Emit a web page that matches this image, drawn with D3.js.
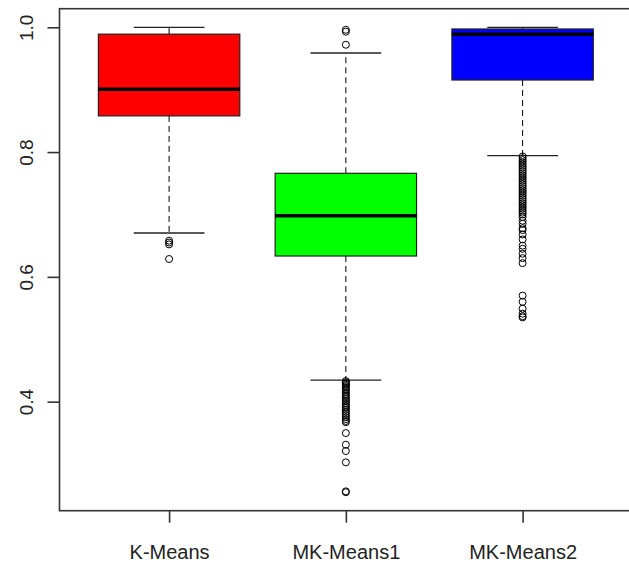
<!DOCTYPE html>
<html>
<head>
<meta charset="utf-8">
<title>Boxplot</title>
<script src="https://cdn.jsdelivr.net/npm/d3@7"></script>
<style>
    body { margin: 0; background: #fff; }
    #chart { width: 629px; height: 565px; overflow: hidden; }
    .tick text { font-family: "Liberation Sans", Arial, sans-serif; fill: #222; }
</style>
</head>
<body>
<div id="chart"></div>
<script>

// * * * data * * *
const categories = ["K-Means", "MK-Means1", "MK-Means2"];
const boxColors = ["#ff0000", "#00ff00", "#0000ff"];

const q1 = [0.858, 0.6334, 0.9155];
const medians = [0.9005, 0.698, 0.989];
const q3 = [0.989, 0.766, 0.9973];
const whiskerLow = [0.6703, 0.4346, 0.7943];
const whiskerHigh = [1.0, 0.9588, 1.0];

const outliersKMeans = [0.658, 0.655, 0.652, 0.6286];
const outliersMK1 = [0.996, 0.993, 0.972,
    0.433, 0.431, 0.429, 0.427, 0.425, 0.423, 0.420, 0.418, 0.415, 0.412,
    0.410, 0.407, 0.404, 0.401, 0.398, 0.395, 0.392, 0.390, 0.387, 0.384,
    0.381, 0.378, 0.375, 0.372, 0.369, 0.367,
    0.3496, 0.331, 0.3208, 0.3027, 0.2562, 0.2548];
const outliersMK2 = [0.793, 0.790, 0.787, 0.784, 0.781, 0.778, 0.775, 0.772,
    0.769, 0.766, 0.763, 0.760, 0.757, 0.754, 0.751, 0.748, 0.745, 0.742,
    0.739, 0.736, 0.733, 0.730, 0.727, 0.724, 0.721, 0.718, 0.715, 0.712,
    0.709, 0.706, 0.703, 0.700, 0.696, 0.690, 0.685, 0.678, 0.675, 0.668,
    0.660, 0.650, 0.645, 0.637, 0.630, 0.622,
    0.570, 0.560, 0.549, 0.541, 0.537, 0.535];
const outliers = [outliersKMeans, outliersMK1, outliersMK2];

const yTicks = [0.4, 0.6, 0.8, 1.0];

// * * * layout * * *
const plot = {left: 59.5, right: 632.2, top: 8.7, bottom: 510.7};

const svg = d3.select("#chart").append("svg")
    .attr("width", 629)
    .attr("height", 565);

// R style: x positions 1..n, range padded by 4%
const x = d3.scaleLinear()
    .domain([0.38, 3.62])
    .range([plot.left, plot.right]);

const y = d3.scaleLinear()
    .domain([0.2252, 1.0298])
    .range([plot.bottom, plot.top]);

const boxHalf = 0.4;   // box half width in x units
const capHalf = 0.2;   // whisker cap half width

// build one object per box
const boxes = categories.map((c, i) => ({
    name: c, pos: i + 1, color: boxColors[i],
    q1: q1[i], med: medians[i], q3: q3[i],
    lo: whiskerLow[i], hi: whiskerHigh[i], out: outliers[i]
}));

const g = svg.selectAll(".box")
    .data(boxes)
    .enter().append("g")
    .attr("class", "box");

// dashed whiskers
g.append("line")
    .attr("x1", d => x(d.pos)).attr("x2", d => x(d.pos))
    .attr("y1", d => y(d.q1)).attr("y2", d => y(d.lo))
    .attr("stroke", "#000").attr("stroke-dasharray", "6,4");
g.append("line")
    .attr("x1", d => x(d.pos)).attr("x2", d => x(d.pos))
    .attr("y1", d => y(d.q3)).attr("y2", d => y(d.hi))
    .attr("stroke", "#000").attr("stroke-dasharray", "6,4");

// whisker caps
["lo", "hi"].forEach(k => {
    g.append("line")
        .attr("x1", d => x(d.pos - capHalf)).attr("x2", d => x(d.pos + capHalf))
        .attr("y1", d => y(d[k])).attr("y2", d => y(d[k]))
        .attr("stroke", "#222").attr("stroke-width", 1.3);
});

// boxes
g.append("rect")
    .attr("x", d => x(d.pos - boxHalf))
    .attr("width", d => x(d.pos + boxHalf) - x(d.pos - boxHalf))
    .attr("y", d => y(d.q3))
    .attr("height", d => y(d.q1) - y(d.q3))
    .attr("fill", d => d.color)
    .attr("stroke", "#222").attr("stroke-width", 1.2);

// medians
g.append("line")
    .attr("x1", d => x(d.pos - boxHalf)).attr("x2", d => x(d.pos + boxHalf))
    .attr("y1", d => y(d.med)).attr("y2", d => y(d.med))
    .attr("stroke", "#000").attr("stroke-width", 3.5);

// outlier circles
g.selectAll(".out")
    .data(d => d.out.map(v => ({pos: d.pos, v: v})))
    .enter().append("circle")
    .attr("class", "out")
    .attr("cx", d => x(d.pos))
    .attr("cy", d => y(d.v))
    .attr("r", 3.5)
    .attr("fill", "none")
    .attr("stroke", "#000").attr("stroke-width", 1);

// frame
svg.append("rect")
    .attr("x", plot.left).attr("y", plot.top)
    .attr("width", plot.right - plot.left)
    .attr("height", plot.bottom - plot.top)
    .attr("fill", "none")
    .attr("stroke", "#333").attr("stroke-width", 1.6);

// y axis, labels rotated like R's default las=0
const yAxis = svg.append("g")
    .attr("transform", `translate(${plot.left},0)`)
    .call(d3.axisLeft(y).tickValues(yTicks).tickSize(12).tickFormat(d3.format(".1f")));
yAxis.select(".domain").remove();
yAxis.selectAll(".tick line").attr("stroke", "#333").attr("stroke-width", 1.6);
yAxis.selectAll(".tick text")
    .attr("x", 0).attr("dy", 0)
    .attr("text-anchor", "middle")
    .attr("transform", "translate(-26.2,0) rotate(-90)")
    .style("font-size", "19px");

// x axis
const xAxis = svg.append("g")
    .attr("transform", `translate(0,${plot.bottom})`)
    .call(d3.axisBottom(x).tickValues([1, 2, 3]).tickSize(12).tickFormat((d, i) => categories[i]));
xAxis.select(".domain").remove();
xAxis.selectAll(".tick line").attr("stroke", "#333").attr("stroke-width", 1.6);
xAxis.selectAll(".tick text")
    .attr("y", 48).attr("dy", 0)
    .style("font-size", "20px");

</script>
</body>
</html>
